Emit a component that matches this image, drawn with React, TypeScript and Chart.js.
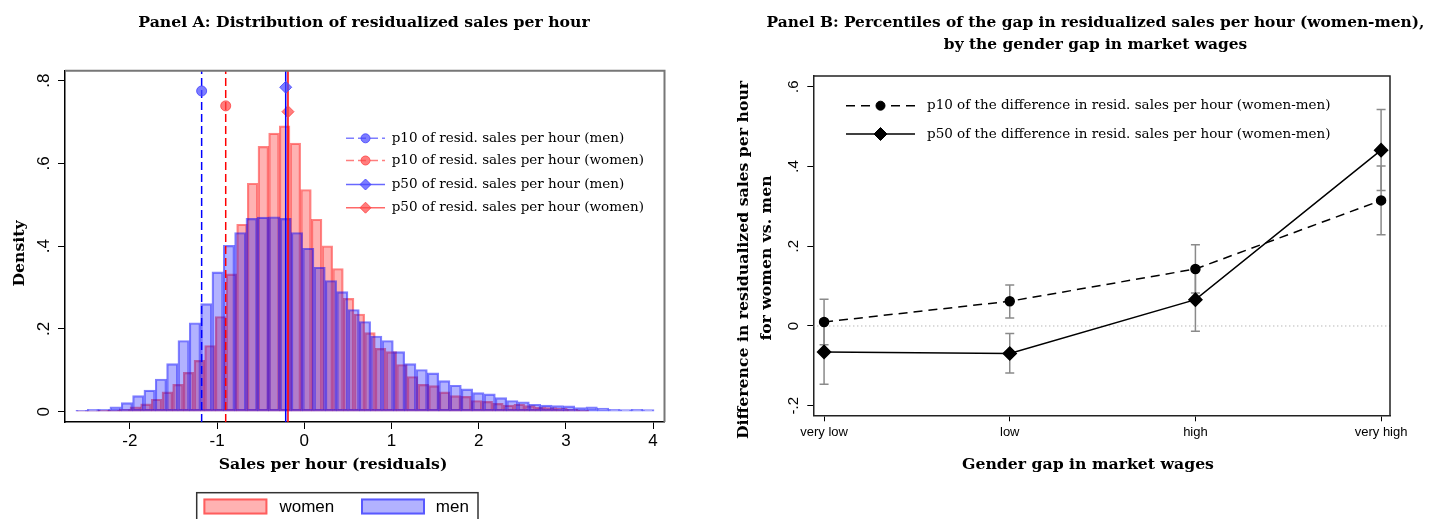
import React, { useEffect, useRef } from 'react';
import { Chart, registerables } from 'chart.js';

Chart.register(...registerables);

const SERIF = '"DejaVu Serif", "Liberation Serif", serif';
const SANS = '"Liberation Sans", Arial, sans-serif';

// ---------------- Panel A data ----------------
const womenBinStart = -2.61;
const womenBinWidth = 0.1223;
const womenDensity = [
  0.002, 0.002, 0.003, 0.004, 0.006, 0.012, 0.019, 0.03, 0.048, 0.066,
  0.095, 0.124, 0.16, 0.23, 0.333, 0.453, 0.552, 0.641, 0.673, 0.691,
  0.649, 0.537, 0.465, 0.401, 0.346, 0.274, 0.236, 0.191, 0.153, 0.145,
  0.114, 0.085, 0.066, 0.063, 0.048, 0.039, 0.037, 0.027, 0.025, 0.02,
  0.016, 0.018, 0.0145, 0.011, 0.01, 0.008, 0.006, 0.004,
];
const menBinStart = -2.619;
const menBinWidth = 0.13;
const menDensity = [
  0.003, 0.006, 0.006, 0.012, 0.022, 0.039, 0.052, 0.079, 0.116, 0.172,
  0.215, 0.261, 0.338, 0.402, 0.433, 0.467, 0.47, 0.471, 0.467, 0.433,
  0.395, 0.349, 0.317, 0.29, 0.247, 0.218, 0.183, 0.172, 0.145, 0.116,
  0.102, 0.094, 0.075, 0.064, 0.055, 0.046, 0.043, 0.034, 0.027, 0.024,
  0.018, 0.016, 0.0145, 0.014, 0.01, 0.012, 0.009, 0.006, 0.005, 0.006, 0.005,
];
const histSeriesLabels = ['women', 'men'];
const percentileLabels = [
  'p10 of resid. sales per hour (men)',
  'p10 of resid. sales per hour (women)',
  'p50 of resid. sales per hour (men)',
  'p50 of resid. sales per hour (women)',
];
const percentileValues = [-1.177, -0.901, -0.213, -0.187];
const percentileMarkerY = [0.775, 0.739, 0.784, 0.725];
const panelAXTicks = [-2, -1, 0, 1, 2, 3, 4];
const panelAXTickLabels = ['-2', '-1', '0', '1', '2', '3', '4'];
const panelAYTicks = [0, 0.2, 0.4, 0.6, 0.8];
const panelAYTickLabels = ['0', '.2', '.4', '.6', '.8'];

// ---------------- Panel B data ----------------
const gapCategories = ['very low', 'low', 'high', 'very high'];
const diffLabels = [
  'p10 of the difference in resid. sales per hour (women-men)',
  'p50 of the difference in resid. sales per hour (women-men)',
];
const p10Diff = [0.01, 0.062, 0.143, 0.315];
const p10Low = [-0.047, 0.02, 0.083, 0.229];
const p10High = [0.067, 0.103, 0.204, 0.401];
const p50Diff = [-0.065, -0.069, 0.066, 0.441];
const p50Low = [-0.146, -0.118, -0.013, 0.34];
const p50High = [0.016, -0.019, 0.145, 0.543];
const panelBYTicks = [-0.2, 0, 0.2, 0.4, 0.6];
const panelBYTickLabels = ['-.2', '0', '.2', '.4', '.6'];

// ---------------- styles / axis ranges ----------------
const A_X_MIN = -2.744;
const A_X_MAX = 4.131;
const A_Y_MIN = -0.0249;
const A_Y_MAX = 0.824;
const B_X_MIN = -0.058;
const B_X_MAX = 3.048;
const B_Y_MIN = -0.224;
const B_Y_MAX = 0.627;

const WOMEN_FILL = 'rgba(255,0,0,0.3)';
const WOMEN_EDGE = 'rgba(255,0,0,0.48)';
const MEN_FILL = 'rgba(0,0,255,0.3)';
const MEN_EDGE = 'rgba(0,0,255,0.5)';

const TITLE_FONT = `bold 15.7px ${SERIF}`;
const B_TITLE_FONT = `bold 15.4px ${SERIF}`;
const LEGEND_FONT = `13.5px ${SERIF}`;

const pctLineColor = ['#0000ff', '#ff0000', '#0000ff', '#ff0000'];
const pctLegendLine = ['rgba(40,40,255,0.6)', 'rgba(255,40,40,0.6)', 'rgba(40,40,255,0.7)', 'rgba(255,40,40,0.7)'];
const pctDash = [[8, 4], [8, 4], [], []];
const pctPointStyle = ['circle', 'circle', 'rectRot', 'rectRot'];
const pctRadius = [5, 5, 6, 6];
const pctFill = ['rgba(70,70,255,0.7)', 'rgba(255,70,70,0.7)', 'rgba(70,70,255,0.7)', 'rgba(255,70,70,0.7)'];
const pctEdge = ['rgba(70,70,255,0.85)', 'rgba(255,70,70,0.85)', 'rgba(70,70,255,0.85)', 'rgba(255,70,70,0.85)'];

type DecorText = { text: string; x: number; y: number; font: string; rotate?: boolean; align?: CanvasTextAlign };
type LegendRow = {
  label: string; y: number; line: string; dash: number[]; style: string; r: number; fill: string; edge: string;
};
type DecorCfg = {
  id: string;
  frame: { color: string; width: number };
  texts: DecorText[];
  legend?: { x0: number; x1: number; textX: number; font: string; rows: LegendRow[] };
  errorBars?: { series: { low: number[]; high: number[] }[]; color: string; width: number; cap: number };
};

function drawMarker(ctx: CanvasRenderingContext2D, style: string, x: number, y: number, r: number, fill: string, edge: string) {
  ctx.beginPath();
  if (style === 'circle') {
    ctx.arc(x, y, r, 0, Math.PI * 2);
  } else {
    ctx.moveTo(x - r, y);
    ctx.lineTo(x, y - r);
    ctx.lineTo(x + r, y);
    ctx.lineTo(x, y + r);
    ctx.closePath();
  }
  ctx.setLineDash([]);
  ctx.fillStyle = fill;
  ctx.fill();
  ctx.strokeStyle = edge;
  ctx.lineWidth = 1;
  ctx.stroke();
}

function makeDecor(cfg: DecorCfg) {
  return {
    id: cfg.id,
    beforeDatasetsDraw(chart: any) {
      const eb = cfg.errorBars;
      if (!eb) return;
      const ctx: CanvasRenderingContext2D = chart.ctx;
      const xs = chart.scales.x;
      const ys = chart.scales.y;
      ctx.save();
      ctx.strokeStyle = eb.color;
      ctx.lineWidth = eb.width;
      ctx.setLineDash([]);
      eb.series.forEach((s) => {
        s.low.forEach((lo, i) => {
          const px = xs.getPixelForValue(i);
          const y1 = ys.getPixelForValue(lo);
          const y2 = ys.getPixelForValue(s.high[i]);
          ctx.beginPath();
          ctx.moveTo(px, y1);
          ctx.lineTo(px, y2);
          ctx.moveTo(px - eb.cap, y1);
          ctx.lineTo(px + eb.cap, y1);
          ctx.moveTo(px - eb.cap, y2);
          ctx.lineTo(px + eb.cap, y2);
          ctx.stroke();
        });
      });
      ctx.restore();
    },
    afterDraw(chart: any) {
      const ctx: CanvasRenderingContext2D = chart.ctx;
      const ca = chart.chartArea;
      ctx.save();
      ctx.strokeStyle = cfg.frame.color;
      ctx.lineWidth = cfg.frame.width;
      ctx.setLineDash([]);
      ctx.beginPath();
      ctx.moveTo(ca.left, ca.top);
      ctx.lineTo(ca.right, ca.top);
      ctx.lineTo(ca.right, ca.bottom);
      ctx.stroke();

      ctx.fillStyle = '#000';
      cfg.texts.forEach((t) => {
        ctx.save();
        ctx.font = t.font;
        ctx.textAlign = t.align || 'center';
        ctx.textBaseline = 'alphabetic';
        ctx.translate(t.x, t.y);
        if (t.rotate) ctx.rotate(-Math.PI / 2);
        ctx.fillText(t.text, 0, 0);
        ctx.restore();
      });

      const lg = cfg.legend;
      if (lg) {
        lg.rows.forEach((row) => {
          ctx.save();
          ctx.strokeStyle = row.line;
          ctx.lineWidth = 1.5;
          ctx.setLineDash(row.dash);
          ctx.beginPath();
          ctx.moveTo(lg.x0, row.y);
          ctx.lineTo(lg.x1, row.y);
          ctx.stroke();
          drawMarker(ctx, row.style, (lg.x0 + lg.x1) / 2, row.y, row.r, row.fill, row.edge);
          ctx.fillStyle = '#000';
          ctx.font = lg.font;
          ctx.textAlign = 'left';
          ctx.textBaseline = 'middle';
          ctx.fillText(row.label, lg.textX, row.y);
          ctx.restore();
        });
      }
      ctx.restore();
    },
  };
}

function buildPanelA(): any {
  const pctDatasets = percentileValues.map((v, i) => ({
    type: 'line',
    label: percentileLabels[i],
    data: [
      { x: v, y: A_Y_MIN },
      { x: v, y: percentileMarkerY[i] },
      { x: v, y: A_Y_MAX },
    ],
    xAxisID: 'x',
    yAxisID: 'y',
    borderColor: pctLineColor[i],
    borderWidth: 1.5,
    borderDash: pctDash[i],
    pointRadius: [0, pctRadius[i], 0],
    pointStyle: pctPointStyle[i],
    pointBackgroundColor: pctFill[i],
    pointBorderColor: pctEdge[i],
    pointBorderWidth: 1,
    tension: 0,
    order: 0,
  }));
  const menData = menDensity.map((d, i) => ({ x: menBinStart + (i + 0.5) * menBinWidth, y: d }));
  const womenData = womenDensity.map((d, i) => ({ x: womenBinStart + (i + 0.5) * womenBinWidth, y: d }));

  const decor: any = makeDecor({
    id: 'decorA',
    frame: { color: '#777', width: 2 },
    texts: [
      { text: 'Panel A: Distribution of residualized sales per hour', x: 364, y: 26.7, font: TITLE_FONT },
      { text: 'Density', x: 24, y: 253.5, font: TITLE_FONT, rotate: true },
      { text: 'Sales per hour (residuals)', x: 333, y: 468.7, font: TITLE_FONT },
    ],
    legend: {
      x0: 346,
      x1: 385,
      textX: 391.7,
      font: LEGEND_FONT,
      rows: percentileLabels.map((label, i) => ({
        label,
        y: [138.3, 160.5, 184.5, 207.7][i],
        line: pctLegendLine[i],
        dash: pctDash[i],
        style: pctPointStyle[i],
        r: pctRadius[i] - 0.5,
        fill: pctFill[i],
        edge: pctEdge[i],
      })),
    },
  });
  const boxLegend = {
    id: 'boxLegendA',
    afterDraw(chart: any) {
      const ctx: CanvasRenderingContext2D = chart.ctx;
      ctx.save();
      ctx.setLineDash([]);
      ctx.strokeStyle = '#333';
      ctx.lineWidth = 1.5;
      ctx.strokeRect(196.7, 492.7, 281.3, 40);
      const items = [
        { label: histSeriesLabels[0], sx: 203.4, tx: 279.4, fill: WOMEN_FILL, edge: WOMEN_EDGE },
        { label: histSeriesLabels[1], sx: 361, tx: 435.8, fill: MEN_FILL, edge: MEN_EDGE },
      ];
      items.forEach((it) => {
        ctx.fillStyle = it.fill;
        ctx.fillRect(it.sx, 498.5, 64, 16);
        ctx.strokeStyle = it.edge;
        ctx.lineWidth = 2;
        ctx.strokeRect(it.sx + 1, 499.5, 62, 14);
        ctx.fillStyle = '#000';
        ctx.font = `17px ${SANS}`;
        ctx.textAlign = 'left';
        ctx.textBaseline = 'middle';
        ctx.fillText(it.label, it.tx, 507.5);
      });
      ctx.restore();
    },
  };

  return {
    type: 'bar',
    data: {
      datasets: [
        ...pctDatasets,
        {
          type: 'bar',
          label: histSeriesLabels[1],
          data: menData,
          xAxisID: 'x2',
          yAxisID: 'y',
          backgroundColor: MEN_FILL,
          borderColor: MEN_EDGE,
          borderWidth: 1.5,
          borderSkipped: false,
          barPercentage: 1,
          categoryPercentage: 1,
          grouped: false,
          order: 1,
        },
        {
          type: 'bar',
          label: histSeriesLabels[0],
          data: womenData,
          xAxisID: 'x',
          yAxisID: 'y',
          backgroundColor: WOMEN_FILL,
          borderColor: WOMEN_EDGE,
          borderWidth: 1.5,
          borderSkipped: false,
          barPercentage: 1,
          categoryPercentage: 1,
          grouped: false,
          order: 2,
        },
      ],
    },
    options: {
      animation: false,
      responsive: false,
      devicePixelRatio: 1,
      events: [],
      layout: { padding: { top: 70.7, right: 49.5, left: 0, bottom: 0 } },
      plugins: { legend: { display: false }, title: { display: false }, tooltip: { enabled: false } },
      scales: {
        x: {
          type: 'linear',
          min: A_X_MIN,
          max: A_X_MAX,
          offset: false,
          afterBuildTicks: (s: any) => { s.ticks = panelAXTicks.map((v) => ({ value: v })); },
          afterFit: (s: any) => { s.height = 97; },
          ticks: {
            autoSkip: false,
            maxRotation: 0,
            padding: 2,
            color: '#000',
            font: { family: SANS, size: 17 },
            callback: (_v: any, i: number) => panelAXTickLabels[i],
          },
          grid: { drawOnChartArea: false, drawTicks: true, tickLength: 7, color: '#000', offset: false },
          border: { display: true, color: '#000', width: 1.5 },
        },
        x2: { type: 'linear', display: false, min: A_X_MIN, max: A_X_MAX, offset: false, grid: { offset: false } },
        y: {
          type: 'linear',
          min: A_Y_MIN,
          max: A_Y_MAX,
          afterBuildTicks: (s: any) => { s.ticks = panelAYTicks.map((v) => ({ value: v })); },
          afterFit: (s: any) => { s.width = 65; },
          ticks: {
            autoSkip: false,
            minRotation: 90,
            maxRotation: 90,
            crossAlign: 'center',
            padding: 7,
            color: '#000',
            font: { family: SANS, size: 17 },
            callback: (_v: any, i: number) => panelAYTickLabels[i],
          },
          grid: { drawOnChartArea: false, drawTicks: true, tickLength: 7, color: '#000' },
          border: { display: true, color: '#000', width: 1.5 },
        },
      },
    },
    plugins: [decor, boxLegend],
  };
}

function buildPanelB(): any {
  const decor: any = makeDecor({
    id: 'decorB',
    frame: { color: '#222', width: 1.5 },
    texts: [
      { text: 'Panel B: Percentiles of the gap in residualized sales per hour (women-men),', x: 381.5, y: 26.7, font: B_TITLE_FONT },
      { text: 'by the gender gap in market wages', x: 381.5, y: 48.7, font: B_TITLE_FONT },
      { text: 'Difference in residualized sales per hour', x: 34, y: 260, font: TITLE_FONT, rotate: true },
      { text: 'for women vs. men', x: 56.5, y: 258, font: TITLE_FONT, rotate: true },
      { text: 'Gender gap in market wages', x: 374, y: 469, font: TITLE_FONT },
    ],
    legend: {
      x0: 132,
      x1: 201,
      textX: 213,
      font: LEGEND_FONT,
      rows: [
        { label: diffLabels[0], y: 105.7, line: '#000', dash: [9, 6], style: 'circle', r: 4.5, fill: '#000', edge: '#000' },
        { label: diffLabels[1], y: 134, line: '#000', dash: [], style: 'diamond', r: 6.5, fill: '#000', edge: '#000' },
      ],
    },
    errorBars: {
      series: [
        { low: p10Low, high: p10High },
        { low: p50Low, high: p50High },
      ],
      color: '#8a8a8a',
      width: 1.5,
      cap: 4.5,
    },
  });

  return {
    type: 'line',
    data: {
      datasets: [
        {
          label: diffLabels[1],
          data: p50Diff.map((v, i) => ({ x: i, y: v })),
          borderColor: '#000',
          borderWidth: 1.5,
          pointStyle: 'rectRot',
          pointRadius: 6.5,
          pointBackgroundColor: '#000',
          pointBorderColor: '#000',
          tension: 0,
          order: 1,
        },
        {
          label: diffLabels[0],
          data: p10Diff.map((v, i) => ({ x: i, y: v })),
          borderColor: '#000',
          borderWidth: 1.5,
          borderDash: [9, 6],
          pointStyle: 'circle',
          pointRadius: 4.5,
          pointBackgroundColor: '#000',
          pointBorderColor: '#000',
          tension: 0,
          order: 2,
        },
        {
          label: 'zero',
          data: [{ x: B_X_MIN, y: 0 }, { x: B_X_MAX, y: 0 }],
          borderColor: '#999',
          borderWidth: 1,
          borderDash: [1, 3],
          pointRadius: 0,
          order: 3,
        },
      ],
    },
    options: {
      animation: false,
      responsive: false,
      devicePixelRatio: 1,
      events: [],
      layout: { padding: { top: 76, right: 39, left: 0, bottom: 0 } },
      plugins: { legend: { display: false }, title: { display: false }, tooltip: { enabled: false } },
      scales: {
        x: {
          type: 'linear',
          min: B_X_MIN,
          max: B_X_MAX,
          offset: false,
          afterBuildTicks: (s: any) => { s.ticks = gapCategories.map((_c, i) => ({ value: i })); },
          afterFit: (s: any) => { s.height = 103.7; },
          ticks: {
            autoSkip: false,
            maxRotation: 0,
            padding: 3,
            color: '#000',
            font: { family: SANS, size: 13 },
            callback: (_v: any, i: number) => gapCategories[i],
          },
          grid: { drawOnChartArea: false, drawTicks: true, tickLength: 6, color: '#000' },
          border: { display: true, color: '#222', width: 1.5 },
        },
        y: {
          type: 'linear',
          min: B_Y_MIN,
          max: B_Y_MAX,
          afterBuildTicks: (s: any) => { s.ticks = panelBYTicks.map((v) => ({ value: v })); },
          afterFit: (s: any) => { s.width = 99.3; },
          ticks: {
            autoSkip: false,
            minRotation: 90,
            maxRotation: 90,
            crossAlign: 'center',
            padding: 5,
            color: '#000',
            font: { family: SANS, size: 15 },
            callback: (_v: any, i: number) => panelBYTickLabels[i],
          },
          grid: { drawOnChartArea: false, drawTicks: true, tickLength: 6, color: '#000' },
          border: { display: true, color: '#222', width: 1.5 },
        },
      },
    },
    plugins: [decor],
  };
}

export default function App() {
  const refA = useRef<HTMLCanvasElement>(null);
  const refB = useRef<HTMLCanvasElement>(null);
  useEffect(() => {
    const a = new Chart(refA.current as HTMLCanvasElement, buildPanelA());
    const b = new Chart(refB.current as HTMLCanvasElement, buildPanelB());
    return () => {
      a.destroy();
      b.destroy();
    };
  }, []);
  return (
    <div style={{ position: 'absolute', left: 0, top: 0, width: 1429, height: 519, background: '#fff', overflow: 'hidden' }}>
      <canvas ref={refA} width={714} height={519} style={{ position: 'absolute', left: 0, top: 0, width: 714, height: 519 }} />
      <canvas ref={refB} width={715} height={519} style={{ position: 'absolute', left: 714, top: 0, width: 715, height: 519 }} />
    </div>
  );
}
